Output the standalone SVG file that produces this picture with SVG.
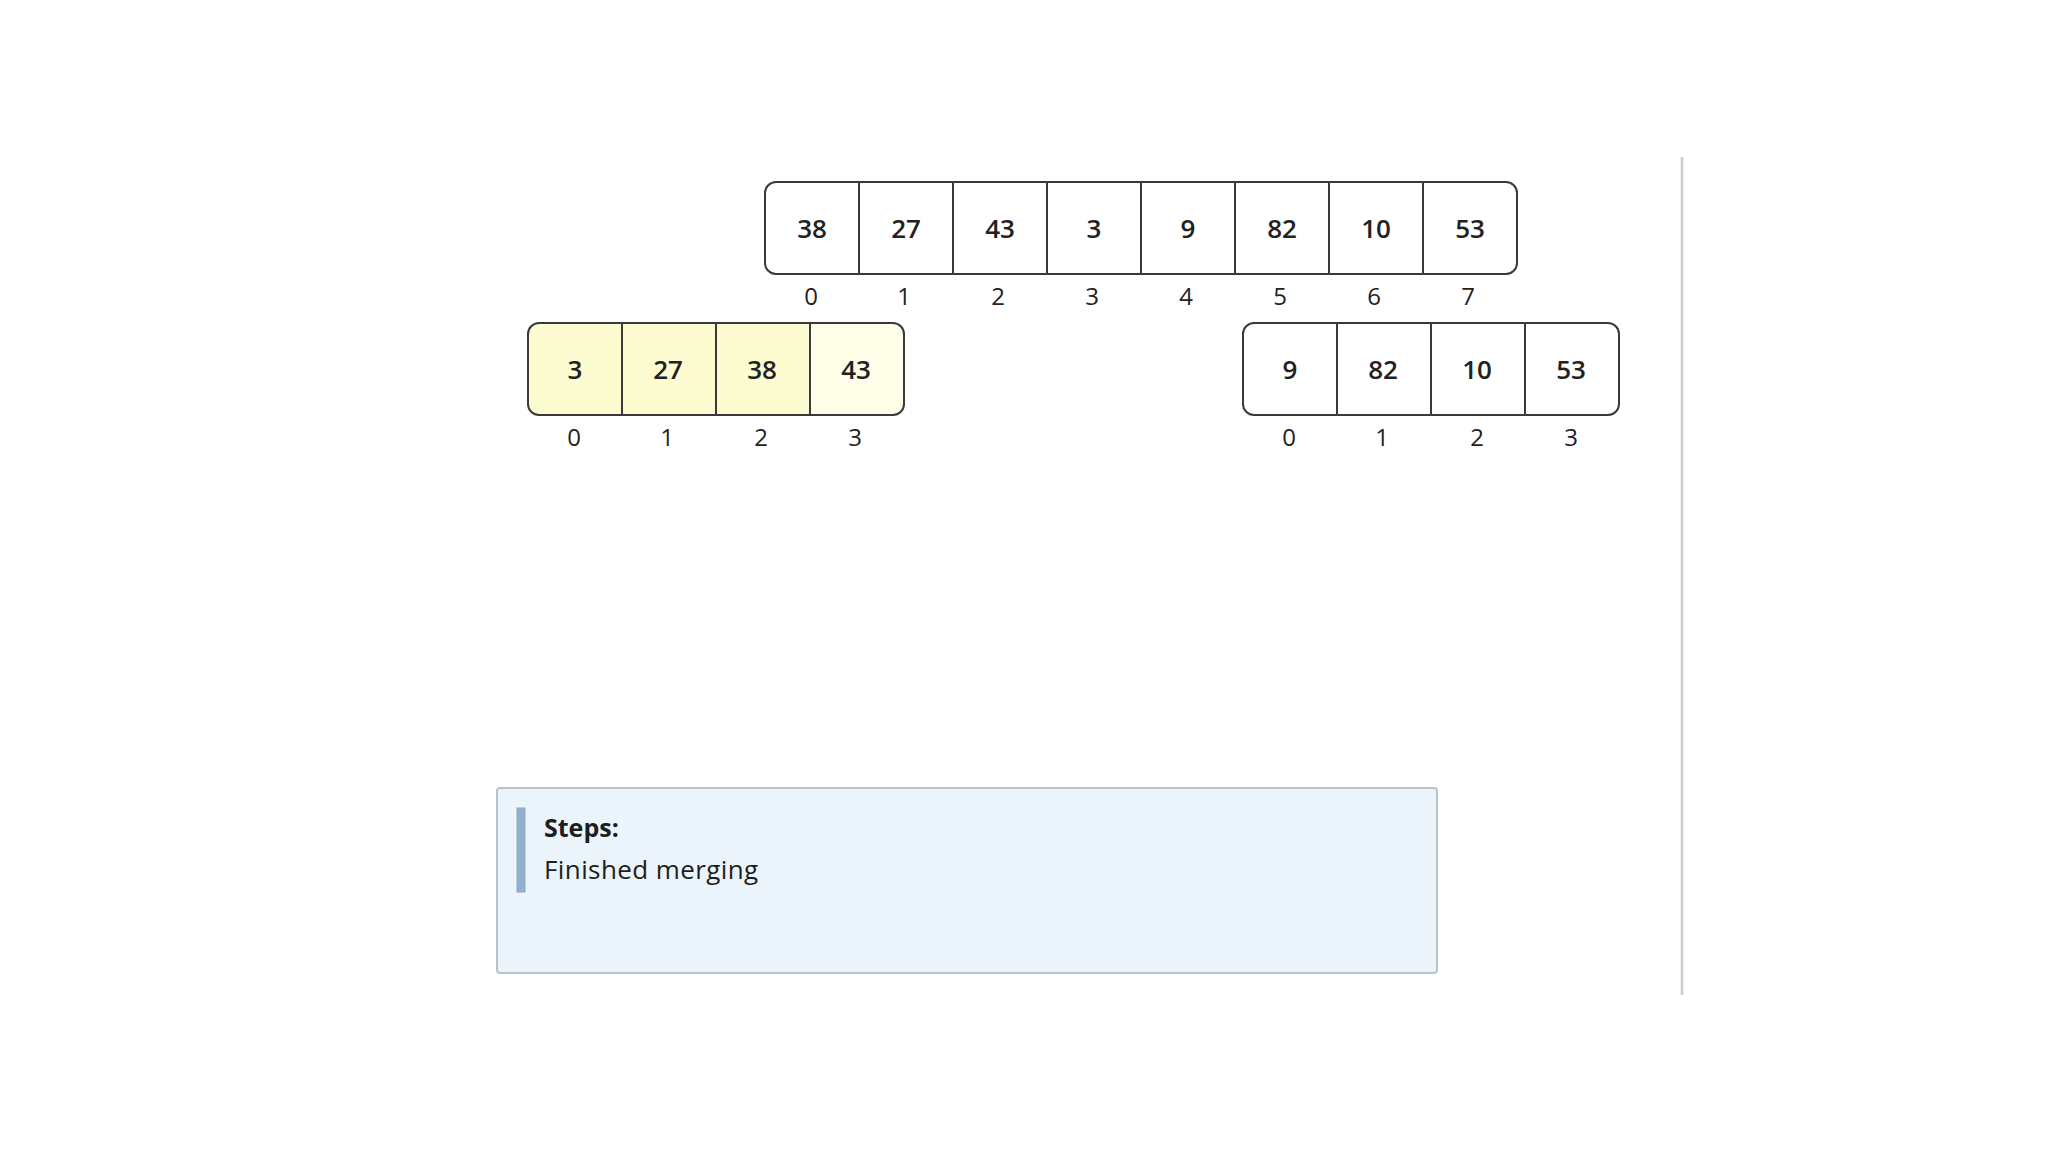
<svg xmlns="http://www.w3.org/2000/svg" width="2048" height="1152" viewBox="0 0 2048 1152">
  <style>
    .frame { fill: none; stroke: #3a3a3a; stroke-width: 2; }
    .div { stroke: #3a3a3a; stroke-width: 2; }
    .val { font-family: "Open Sans", "Noto Sans", sans-serif; font-size: 26px; font-weight: 600; fill: #222; text-anchor: middle; }
    .idx { font-family: "Open Sans", "Noto Sans", sans-serif; font-size: 24px; fill: #222; text-anchor: middle; }
    .hl { fill: #fdfbd0; }
    .hl2 { fill: #fefde8; }
    .steps-title { font-family: "Open Sans", "Noto Sans", sans-serif; font-size: 25px; font-weight: 700; fill: #1e1e1e; }
    .steps-text { font-family: "Open Sans", "Noto Sans", sans-serif; font-size: 26px; letter-spacing: 0.4px; fill: #1e1e1e; }
  </style>
  <defs>
    <clipPath id="clipLeft"><rect x="528" y="323" width="376" height="92" rx="11"/></clipPath>
  </defs>
  <rect width="2048" height="1152" fill="#ffffff"/>

  <g id="array-main">
    <rect x="765" y="182" width="752" height="92" rx="11" fill="#ffffff"/>
    <line class="div" x1="859" y1="182" x2="859" y2="274"/>
    <line class="div" x1="953" y1="182" x2="953" y2="274"/>
    <line class="div" x1="1047" y1="182" x2="1047" y2="274"/>
    <line class="div" x1="1141" y1="182" x2="1141" y2="274"/>
    <line class="div" x1="1235" y1="182" x2="1235" y2="274"/>
    <line class="div" x1="1329" y1="182" x2="1329" y2="274"/>
    <line class="div" x1="1423" y1="182" x2="1423" y2="274"/>
    <rect class="frame" x="765" y="182" width="752" height="92" rx="11"/>
    <text class="val" x="812" y="238">38</text>
    <text class="val" x="906" y="238">27</text>
    <text class="val" x="1000" y="238">43</text>
    <text class="val" x="1094" y="238">3</text>
    <text class="val" x="1188" y="238">9</text>
    <text class="val" x="1282" y="238">82</text>
    <text class="val" x="1376" y="238">10</text>
    <text class="val" x="1470" y="238">53</text>
    <text class="idx" x="811" y="305">0</text>
    <text class="idx" x="904" y="305">1</text>
    <text class="idx" x="998" y="305">2</text>
    <text class="idx" x="1092" y="305">3</text>
    <text class="idx" x="1186" y="305">4</text>
    <text class="idx" x="1280" y="305">5</text>
    <text class="idx" x="1374" y="305">6</text>
    <text class="idx" x="1468" y="305">7</text>
  </g>

  <g id="array-left">
    <g clip-path="url(#clipLeft)">
      <rect class="hl" x="528" y="323" width="282" height="92"/>
      <rect class="hl2" x="810" y="323" width="94" height="92"/>
    </g>
    <line class="div" x1="622" y1="323" x2="622" y2="415"/>
    <line class="div" x1="716" y1="323" x2="716" y2="415"/>
    <line class="div" x1="810" y1="323" x2="810" y2="415"/>
    <rect class="frame" x="528" y="323" width="376" height="92" rx="11"/>
    <text class="val" x="575" y="379">3</text>
    <text class="val" x="668" y="379">27</text>
    <text class="val" x="762" y="379">38</text>
    <text class="val" x="856" y="379">43</text>
    <text class="idx" x="574" y="446">0</text>
    <text class="idx" x="667" y="446">1</text>
    <text class="idx" x="761" y="446">2</text>
    <text class="idx" x="855" y="446">3</text>
  </g>

  <g id="array-right">
    <rect x="1243" y="323" width="376" height="92" rx="11" fill="#ffffff"/>
    <line class="div" x1="1337" y1="323" x2="1337" y2="415"/>
    <line class="div" x1="1431" y1="323" x2="1431" y2="415"/>
    <line class="div" x1="1525" y1="323" x2="1525" y2="415"/>
    <rect class="frame" x="1243" y="323" width="376" height="92" rx="11"/>
    <text class="val" x="1290" y="379">9</text>
    <text class="val" x="1383" y="379">82</text>
    <text class="val" x="1477" y="379">10</text>
    <text class="val" x="1571" y="379">53</text>
    <text class="idx" x="1289" y="446">0</text>
    <text class="idx" x="1382" y="446">1</text>
    <text class="idx" x="1477" y="446">2</text>
    <text class="idx" x="1571" y="446">3</text>
  </g>

  <g id="steps-panel">
    <rect x="497" y="788" width="940" height="185" rx="3" fill="#ebf4fa" stroke="#b9c3cb" stroke-width="2"/>
    <rect x="517" y="808" width="8" height="84" fill="#8fb1d1" stroke="#9aa8b4" stroke-width="1"/>
    <text class="steps-title" x="544" y="837">Steps:</text>
    <text class="steps-text" x="544" y="879">Finished merging</text>
  </g>

  <g id="connectors">
    <line x1="1682" y1="157" x2="1682" y2="995" stroke="#cccccc" stroke-width="2.5"/>
  </g>
</svg>
